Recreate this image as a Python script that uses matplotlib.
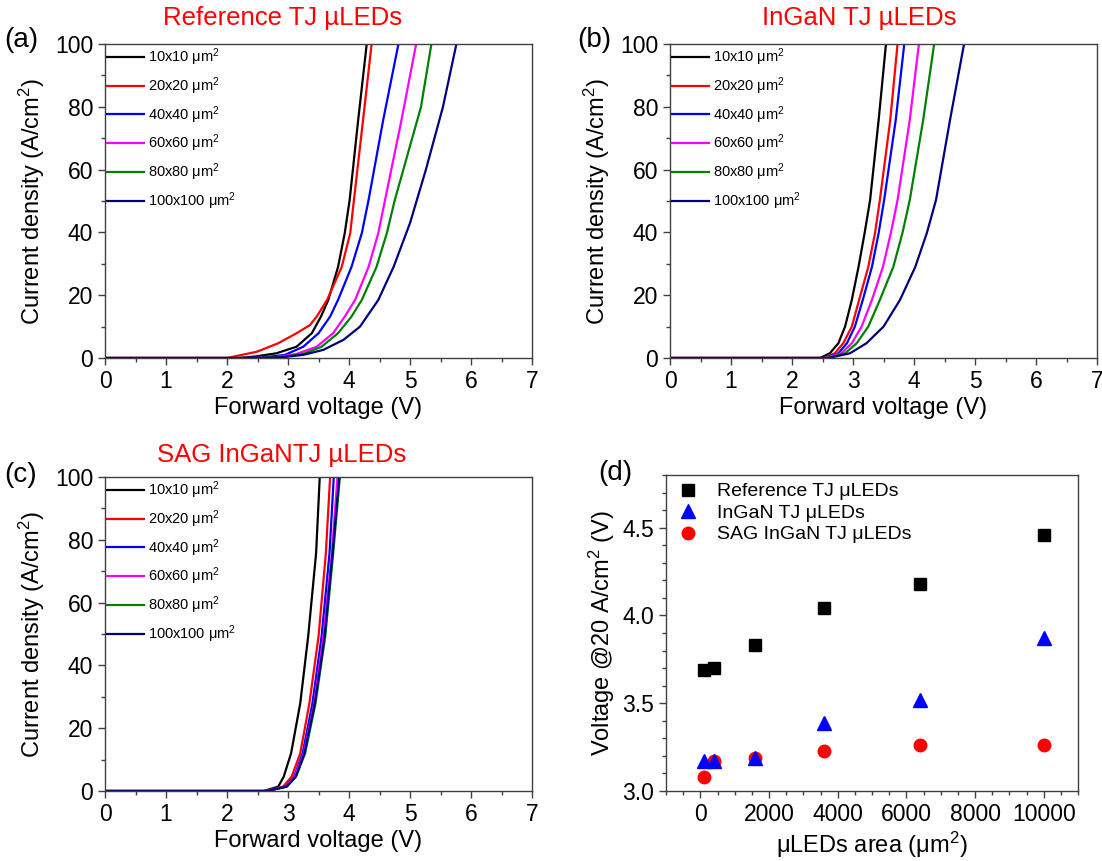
import matplotlib
matplotlib.use("Agg")
import matplotlib.pyplot as plt
from matplotlib.ticker import MultipleLocator

plt.rcParams['font.family'] = ['Liberation Sans', 'DejaVu Sans']
plt.rcParams['mathtext.fontset'] = 'custom'
plt.rcParams['mathtext.rm'] = 'Liberation Sans'
plt.rcParams['mathtext.it'] = 'Liberation Sans'

sizes = ['10x10', '20x20', '40x40', '60x60', '80x80', '100x100']
colors = ['black', '#ff0000', '#0000ff', '#ff00ff', '#008000', '#000080']

# (a) Reference TJ uLEDs, voltage (V) / current density (A/cm2)
ref_v = [
    [0, 2.2, 2.47, 2.81, 3.14, 3.39, 3.54, 3.66, 3.82, 3.93, 4.01, 4.15, 4.29],
    [0, 2.0, 2.49, 2.84, 3.14, 3.36, 3.47, 3.64, 3.88, 4.02, 4.08, 4.23, 4.37],
    [0, 2.3, 2.65, 2.95, 3.25, 3.50, 3.69, 3.82, 4.04, 4.21, 4.32, 4.56, 4.81],
    [0, 2.4, 2.81, 3.14, 3.47, 3.74, 3.93, 4.10, 4.32, 4.48, 4.59, 4.86, 5.10],
    [0, 2.5, 2.98, 3.28, 3.55, 3.82, 4.04, 4.21, 4.45, 4.62, 4.75, 5.18, 5.35],
    [0, 2.5, 2.92, 3.25, 3.58, 3.91, 4.18, 4.48, 4.73, 5.00, 5.26, 5.54, 5.76],
]
ref_j = [
    [0, 0, 0.5, 1.5, 3.6, 7.9, 13.2, 18.5, 29, 39.8, 50.3, 75.8, 100],
    [0, 0, 2.0, 4.7, 7.9, 10.5, 13.2, 18.5, 29, 39.8, 50.3, 75.8, 100],
    [0, 0, 0.3, 1.0, 3.6, 7.9, 13.2, 18.5, 29, 39.8, 50.3, 75.8, 100],
    [0, 0, 0.3, 1.3, 3.6, 7.9, 13.2, 18.5, 29, 39.8, 50.3, 75.8, 100],
    [0, 0, 0.5, 1.5, 3.6, 7.9, 13.2, 18.5, 29, 39.8, 50.3, 80, 100],
    [0, 0, 0.3, 1.0, 2.6, 5.8, 10, 18.5, 29, 43, 60, 80, 100],
]

# (b) InGaN TJ uLEDs
ingan_j = [0, 0, 1.5, 4.7, 10, 18.5, 29, 39.8, 50.3, 75.8, 100]
ingan_v = [
    [0, 2.46, 2.62, 2.76, 2.87, 2.98, 3.09, 3.19, 3.28, 3.42, 3.54],
    [0, 2.52, 2.70, 2.84, 2.98, 3.10, 3.25, 3.36, 3.44, 3.61, 3.73],
    [0, 2.53, 2.76, 2.90, 3.03, 3.16, 3.31, 3.42, 3.51, 3.70, 3.84],
    [0, 2.55, 2.81, 2.98, 3.14, 3.31, 3.49, 3.62, 3.73, 3.93, 4.08],
    [0, 2.57, 2.87, 3.06, 3.25, 3.44, 3.66, 3.81, 3.93, 4.15, 4.33],
    [0, 2.60, 2.95, 3.22, 3.50, 3.77, 4.02, 4.21, 4.36, 4.59, 4.82],
]

# (c) SAG InGaN TJ uLEDs
sag_j = [0, 0, 1.4, 4.6, 12, 27.9, 49.2, 75.7, 100]
sag_v = [
    [0, 2.60, 2.84, 2.93, 3.05, 3.20, 3.33, 3.46, 3.52],
    [0, 2.62, 2.92, 3.06, 3.20, 3.35, 3.50, 3.62, 3.69],
    [0, 2.64, 2.96, 3.10, 3.24, 3.40, 3.55, 3.68, 3.75],
    [0, 2.65, 2.97, 3.11, 3.26, 3.43, 3.58, 3.72, 3.81],
    [0, 2.66, 2.98, 3.13, 3.28, 3.45, 3.61, 3.74, 3.85],
    [0, 2.66, 2.98, 3.13, 3.27, 3.44, 3.60, 3.73, 3.84],
]

# (d) voltage at 20 A/cm2 vs area
areas = [100, 400, 1600, 3600, 6400, 10000]
v20_ref = [3.69, 3.70, 3.83, 4.04, 4.18, 4.46]
v20_ingan = [3.17, 3.17, 3.19, 3.39, 3.52, 3.87]
v20_sag = [3.08, 3.17, 3.19, 3.23, 3.26, 3.26]

SPINE = '#404040'


def style_axes(ax):
    for s in ax.spines.values():
        s.set_color(SPINE)
        s.set_linewidth(1.0)
    ax.tick_params(which='both', direction='out', top=False, right=False,
                   labelsize=16.5, color=SPINE)
    ax.tick_params(which='major', length=5, width=1)
    ax.tick_params(which='minor', length=3, width=1)


def iv_panel(ax, volts, currents):
    for i, v in enumerate(volts):
        j = currents[i] if isinstance(currents[0], list) else currents
        ax.plot(v, j, color=colors[i], lw=1.6, label=sizes[i] + ' μm$^2$')
    ax.set_xlim(0, 7)
    ax.set_ylim(0, 100)
    ax.xaxis.set_major_locator(MultipleLocator(1))
    ax.xaxis.set_minor_locator(MultipleLocator(0.5))
    ax.yaxis.set_major_locator(MultipleLocator(20))
    ax.yaxis.set_minor_locator(MultipleLocator(10))
    ax.set_xlabel('Forward voltage (V)', fontsize=17, labelpad=3)
    ax.set_ylabel('Current density (A/cm$^2$)', fontsize=17, labelpad=6)
    style_axes(ax)
    ax.legend(loc='upper left', bbox_to_anchor=(0, 1), frameon=False,
              fontsize=10.5, handlelength=2.5, handletextpad=0.3,
              labelspacing=0.5, borderaxespad=0, borderpad=0.15)


fig = plt.figure(figsize=(11.02, 8.61), dpi=100)

ax_a = fig.add_axes([0.0953, 0.5842, 0.3875, 0.3647])
ax_b = fig.add_axes([0.6080, 0.5842, 0.3875, 0.3647])
ax_c = fig.add_axes([0.0953, 0.0813, 0.3875, 0.3647])
ax_d = fig.add_axes([0.6044, 0.0813, 0.3739, 0.3670])

iv_panel(ax_a, ref_v, ref_j)
iv_panel(ax_b, ingan_v, ingan_j)
iv_panel(ax_c, sag_v, sag_j)

# panel (d)
ax_d.plot(areas, v20_ref, 's', color='black', ms=9, label='Reference TJ μLEDs', zorder=3)
ax_d.plot(areas, v20_ingan, '^', color='#0000ff', ms=10, label='InGaN TJ μLEDs', zorder=4)
ax_d.plot(areas, v20_sag, 'o', color='#ff0000', ms=9, label='SAG InGaN TJ μLEDs', zorder=2)
ax_d.set_xlim(-1000, 11000)
ax_d.set_ylim(3.0, 4.8)
ax_d.xaxis.set_major_locator(MultipleLocator(2000))
ax_d.xaxis.set_minor_locator(MultipleLocator(500))
ax_d.yaxis.set_major_locator(MultipleLocator(0.5))
ax_d.yaxis.set_minor_locator(MultipleLocator(0.1))
ax_d.set_xlabel('μLEDs area (μm$^2$)', fontsize=17, labelpad=3)
ax_d.set_ylabel('Voltage @20 A/cm$^2$ (V)', fontsize=17, labelpad=4)
style_axes(ax_d)
ax_d.legend(loc='upper left', bbox_to_anchor=(0.01, 1.0), frameon=False,
            fontsize=14, handlelength=1.0, handletextpad=1.0,
            labelspacing=0.2, borderaxespad=0.2, borderpad=0.2)

# titles and panel letters
fig.text(0.256, 0.979, 'Reference TJ µLEDs', color='#ff0000', fontsize=18.5,
         ha='center', va='center')
fig.text(0.780, 0.979, 'InGaN TJ µLEDs', color='#ff0000', fontsize=18.5,
         ha='center', va='center')
fig.text(0.256, 0.4715, 'SAG InGaNTJ µLEDs', color='#ff0000', fontsize=18.5,
         ha='center', va='center')
fig.text(0.004, 0.953, '(a)', fontsize=20, ha='left', va='center')
fig.text(0.524, 0.953, '(b)', fontsize=20, ha='left', va='center')
fig.text(0.004, 0.448, '(c)', fontsize=20, ha='left', va='center')
fig.text(0.543, 0.451, '(d)', fontsize=20, ha='left', va='center')

fig.savefig('out.png', dpi=100)
